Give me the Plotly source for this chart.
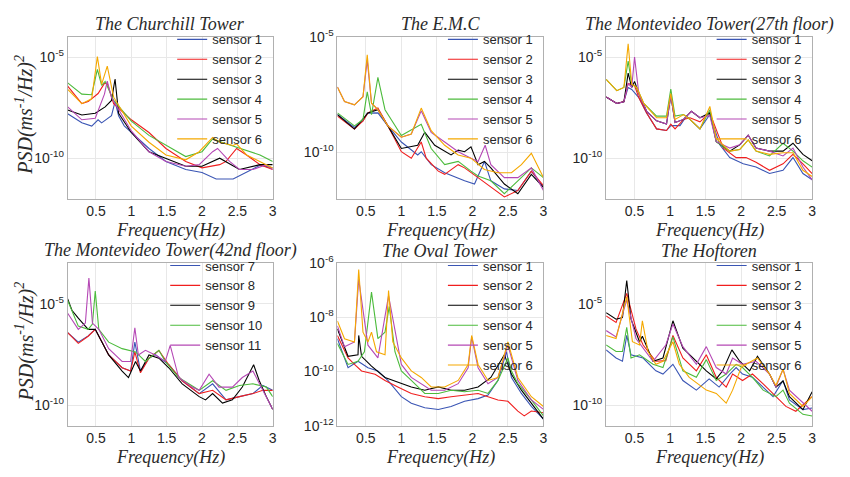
import plotly.graph_objects as go

# ---------------- text ----------------
panel_titles = ["The Churchill Tower", "The E.M.C", "The Montevideo Tower(27th floor)",
                "The Montevideo Tower(42nd floor)", "The Oval Tower", "The Hoftoren"]
names_six = ["sensor 1", "sensor 2", "sensor 3", "sensor 4", "sensor 5", "sensor 6"]
names_five = ["sensor 7", "sensor 8", "sensor 9", "sensor 10", "sensor 11"]
x_tick_vals = [0.5, 1, 1.5, 2, 2.5, 3]
x_tick_text = ["0.5", "1", "1.5", "2", "2.5", "3"]
x_title = "Frequency(Hz)"
y_title = "PSD(ms<sup>-1</sup>/Hz)<sup>2</sup>"

# y tick exponents (log10 of PSD) and axis extents per panel
churchill_yticks = [-10, -5]
emc_yticks = [-10, -5]
mv27_yticks = [-10, -5]
mv42_yticks = [-10, -5]
oval_yticks = [-12, -10, -8, -6]
hof_yticks = [-10, -5]
churchill_yrange = [-12, -4]
emc_yrange = [-12, -5]
mv27_yrange = [-12, -4]
mv42_yrange = [-11, -3]
oval_yrange = [-12, -6]
hof_yrange = [-11, -3]

# ---------------- data: frequency (Hz) and log10 PSD ----------------
# The Churchill Tower
ch1_f = [0.1, 0.3, 0.44, 0.53, 0.58, 0.72, 0.77, 0.82, 0.9, 1.0, 1.25, 1.49, 1.77, 2.0, 2.2, 2.44, 2.63, 2.82, 3.0]
ch1_v = [-7.8, -8.25, -8.41, -8.1, -8.25, -7.9, -7.2, -7.9, -8.4, -8.73, -9.52, -10.16, -10.56, -10.71, -11.03, -11.03, -10.71, -10.35, -10.48]
ch2_f = [0.1, 0.3, 0.39, 0.53, 0.62, 0.66, 0.75, 1.0, 1.25, 1.49, 1.77, 2.0, 2.25, 2.34, 2.49, 2.63, 2.82, 3.0]
ch2_v = [-6.43, -7.3, -7.2, -6.8, -6.3, -6.3, -7.3, -8.1, -8.73, -9.52, -10.16, -10.48, -10.32, -10.16, -9.52, -9.84, -10.32, -10.56]
ch3_f = [0.1, 0.3, 0.49, 0.63, 0.72, 0.77, 0.82, 1.0, 1.25, 1.49, 1.77, 2.0, 2.15, 2.25, 2.53, 2.82, 3.0]
ch3_v = [-7.62, -7.86, -7.78, -7.46, -7.14, -6.08, -7.78, -8.73, -9.68, -10.0, -10.4, -10.4, -10.16, -10.0, -10.56, -10.32, -10.32]
ch4_f = [0.1, 0.3, 0.44, 0.52, 0.58, 0.63, 0.75, 1.0, 1.25, 1.49, 1.77, 2.0, 2.15, 2.34, 2.63, 2.82, 3.0]
ch4_v = [-6.27, -6.83, -6.86, -5.6, -6.4, -6.2, -7.14, -8.17, -8.87, -9.37, -9.92, -9.68, -9.05, -9.29, -9.6, -9.84, -10.16]
ch5_f = [0.1, 0.3, 0.49, 0.62, 0.66, 0.72, 1.0, 1.25, 1.49, 1.77, 1.96, 2.15, 2.22, 2.39, 2.53, 2.72, 2.91, 3.0]
ch5_v = [-7.46, -8.1, -8.02, -6.83, -6.19, -7.0, -8.65, -9.68, -10.16, -10.4, -10.32, -9.68, -9.52, -10.16, -10.56, -10.56, -10.32, -10.56]
ch6_f = [0.1, 0.3, 0.44, 0.52, 0.58, 0.66, 0.75, 1.0, 1.25, 1.49, 1.77, 1.96, 2.15, 2.25, 2.44, 2.49, 2.63, 2.82, 3.0]
ch6_v = [-6.59, -7.3, -7.06, -4.97, -6.35, -5.44, -6.98, -8.41, -9.21, -9.84, -10.08, -9.68, -8.97, -9.21, -9.37, -9.29, -9.84, -10.16, -10.48]

# The E.M.C
emc1_f = [0.1, 0.34, 0.46, 0.52, 0.67, 0.81, 1.0, 1.23, 1.28, 1.42, 1.61, 1.89, 2.03, 2.17, 2.26, 2.45, 2.64, 2.83, 3.0]
emc1_v = [-8.36, -8.92, -8.64, -8.3, -8.29, -8.85, -9.55, -10.11, -9.97, -10.53, -10.88, -11.23, -11.37, -10.39, -11.23, -11.58, -11.65, -10.81, -11.51]
emc2_f = [0.1, 0.34, 0.46, 0.53, 0.67, 0.81, 1.0, 1.14, 1.28, 1.35, 1.52, 1.61, 1.8, 1.89, 2.08, 2.26, 2.45, 2.64, 2.83, 3.0]
emc2_v = [-8.43, -8.99, -8.64, -8.29, -8.08, -8.85, -9.97, -10.25, -9.55, -10.25, -10.81, -10.95, -10.53, -10.67, -11.09, -11.51, -11.93, -11.65, -10.81, -11.44]
emc3_f = [0.1, 0.34, 0.53, 0.67, 0.81, 1.0, 1.23, 1.33, 1.47, 1.7, 1.8, 1.89, 1.98, 2.08, 2.17, 2.26, 2.45, 2.64, 2.83, 3.0]
emc3_v = [-8.36, -8.99, -8.29, -8.15, -8.85, -9.83, -9.69, -9.13, -9.69, -10.11, -9.9, -9.97, -9.76, -10.53, -10.39, -10.67, -11.37, -11.79, -10.95, -11.51]
emc4_f = [0.1, 0.34, 0.46, 0.52, 0.58, 0.67, 0.77, 1.0, 1.28, 1.42, 1.61, 1.8, 1.98, 2.08, 2.26, 2.45, 2.64, 2.83, 3.0]
emc4_v = [-8.29, -8.85, -8.57, -7.38, -8.36, -6.75, -8.15, -9.27, -8.78, -9.83, -10.53, -10.39, -10.81, -11.02, -11.23, -11.79, -11.23, -10.67, -11.09]
emc5_f = [0.1, 0.2, 0.34, 0.46, 0.52, 0.58, 0.67, 0.81, 1.0, 1.14, 1.28, 1.42, 1.61, 1.8, 1.98, 2.08, 2.18, 2.26, 2.45, 2.64, 2.83, 3.0]
emc5_v = [-7.17, -7.8, -7.94, -7.59, -6.0, -7.87, -8.15, -8.85, -9.34, -9.2, -8.2, -9.13, -9.55, -9.97, -10.25, -10.39, -9.69, -10.53, -11.09, -11.09, -10.67, -11.65]
emc6_f = [0.1, 0.2, 0.34, 0.46, 0.52, 0.58, 0.67, 0.81, 1.0, 1.14, 1.28, 1.42, 1.61, 1.8, 1.98, 2.17, 2.36, 2.55, 2.69, 2.83, 3.0]
emc6_v = [-7.17, -7.8, -7.94, -7.59, -5.77, -7.87, -8.15, -8.85, -9.34, -9.2, -8.08, -9.06, -9.69, -10.11, -10.25, -10.74, -10.88, -10.88, -10.53, -10.04, -11.09]

# The Montevideo Tower (27th floor)
m27_1_f = [0.1, 0.25, 0.35, 0.41, 0.46, 0.56, 0.67, 0.81, 0.95, 1.01, 1.14, 1.23, 1.42, 1.56, 1.7, 1.84, 2.03, 2.21, 2.4, 2.59, 2.73, 2.87, 3.0]
m27_1_v = [-6.97, -7.29, -7.2, -6.5, -6.6, -7.0, -7.76, -8.55, -8.63, -8.39, -8.39, -7.92, -8.55, -7.84, -9.34, -9.97, -10.28, -10.44, -10.76, -10.6, -9.97, -10.76, -11.07]
m27_2_f = [0.1, 0.25, 0.35, 0.41, 0.5, 0.56, 0.67, 0.81, 0.95, 1.01, 1.07, 1.19, 1.28, 1.42, 1.56, 1.75, 1.93, 2.07, 2.21, 2.4, 2.59, 2.73, 2.87, 3.0]
m27_2_v = [-6.97, -7.29, -7.2, -6.3, -6.4, -7.0, -7.76, -8.55, -8.63, -8.31, -8.55, -8.08, -8.0, -8.2, -7.76, -9.5, -9.97, -9.97, -10.2, -10.6, -10.28, -9.81, -10.28, -10.76]
m27_3_f = [0.1, 0.25, 0.35, 0.41, 0.46, 0.5, 0.56, 0.67, 0.81, 0.95, 1.01, 1.07, 1.19, 1.3, 1.42, 1.56, 1.65, 1.84, 1.98, 2.1, 2.21, 2.4, 2.59, 2.73, 2.87, 3.0]
m27_3_v = [-6.97, -7.29, -7.21, -5.79, -6.5, -6.2, -6.8, -7.68, -8.15, -8.31, -6.89, -8.23, -8.08, -7.68, -8.0, -7.76, -9.18, -9.65, -9.34, -8.86, -9.5, -9.65, -9.65, -9.26, -9.81, -10.13]
m27_4_f = [0.1, 0.25, 0.35, 0.41, 0.46, 0.53, 0.63, 0.81, 0.95, 1.01, 1.07, 1.19, 1.28, 1.42, 1.56, 1.65, 1.84, 1.98, 2.1, 2.21, 2.4, 2.59, 2.73, 2.87, 3.0]
m27_4_v = [-6.1, -6.66, -6.5, -5.2, -6.34, -6.5, -7.29, -7.92, -7.92, -6.58, -7.92, -7.84, -8.08, -8.55, -7.6, -9.18, -9.65, -9.57, -9.1, -9.65, -9.89, -9.26, -9.65, -10.13, -10.44]
m27_5_f = [0.1, 0.25, 0.35, 0.41, 0.46, 0.5, 0.56, 0.67, 0.81, 0.95, 1.01, 1.07, 1.19, 1.3, 1.42, 1.56, 1.65, 1.84, 1.98, 2.1, 2.21, 2.4, 2.59, 2.73, 2.87, 3.0]
m27_5_v = [-6.97, -7.29, -7.21, -6.3, -6.5, -5.0, -6.8, -7.68, -8.15, -8.31, -6.9, -8.23, -8.08, -7.68, -8.0, -7.9, -9.18, -9.5, -9.34, -8.86, -9.5, -9.65, -9.89, -9.5, -10.44, -11.07]
m27_6_f = [0.1, 0.25, 0.35, 0.41, 0.46, 0.53, 0.63, 0.81, 0.95, 1.01, 1.07, 1.19, 1.28, 1.42, 1.56, 1.65, 1.84, 1.98, 2.1, 2.21, 2.4, 2.59, 2.73, 2.87, 3.0]
m27_6_v = [-6.1, -6.66, -6.5, -4.34, -6.34, -6.5, -7.29, -8.0, -8.0, -6.8, -8.08, -7.84, -8.08, -8.55, -7.44, -9.02, -9.65, -9.57, -9.1, -9.65, -9.81, -9.73, -9.73, -10.6, -10.91]

# The Montevideo Tower (42nd floor)
m42_7_f = [0.1, 0.25, 0.39, 0.49, 0.68, 0.87, 0.99, 1.05, 1.13, 1.25, 1.34, 1.53, 1.72, 1.96, 2.15, 2.34, 2.53, 2.72, 2.86, 3.0]
m42_7_v = [-6.42, -6.89, -6.58, -6.26, -7.52, -8.15, -8.31, -6.89, -8.31, -7.68, -7.5, -8.0, -8.79, -9.42, -8.94, -9.73, -9.57, -9.42, -9.02, -9.26]
m42_8_f = [0.1, 0.25, 0.39, 0.49, 0.68, 0.87, 0.99, 1.05, 1.13, 1.25, 1.39, 1.53, 1.72, 1.96, 2.15, 2.34, 2.53, 2.72, 2.86, 3.0]
m42_8_v = [-6.42, -6.95, -6.6, -6.26, -7.52, -8.15, -8.31, -7.37, -8.4, -7.68, -7.3, -8.0, -8.79, -9.42, -9.26, -9.73, -9.57, -9.42, -9.26, -9.26]
m42_9_f = [0.1, 0.16, 0.25, 0.39, 0.49, 0.54, 0.68, 0.87, 0.96, 1.06, 1.13, 1.25, 1.39, 1.53, 1.72, 1.96, 2.05, 2.15, 2.29, 2.43, 2.57, 2.73, 2.81, 2.91, 3.0]
m42_9_v = [-4.76, -5.32, -5.71, -6.26, -6.26, -6.58, -7.52, -8.31, -8.63, -7.84, -8.31, -7.52, -7.68, -8.15, -8.94, -9.57, -9.73, -9.42, -9.89, -9.73, -9.1, -8.0, -8.79, -9.57, -10.2]
m42_10_f = [0.1, 0.25, 0.39, 0.45, 0.49, 0.54, 0.68, 0.87, 1.06, 1.2, 1.39, 1.48, 1.67, 1.96, 2.15, 2.34, 2.53, 2.72, 2.91, 3.0]
m42_10_v = [-4.84, -6.1, -6.26, -6.0, -4.37, -6.26, -6.89, -7.21, -7.37, -7.84, -7.29, -7.84, -8.63, -9.26, -8.79, -9.26, -9.02, -8.94, -9.1, -9.57]
m42_11_f = [0.1, 0.25, 0.35, 0.4, 0.45, 0.54, 0.68, 0.87, 0.99, 1.05, 1.1, 1.2, 1.34, 1.48, 1.55, 1.67, 1.86, 1.96, 2.1, 2.24, 2.43, 2.57, 2.72, 2.86, 3.0]
m42_11_v = [-5.47, -6.26, -5.95, -3.74, -5.95, -6.26, -7.21, -7.84, -7.84, -6.18, -7.52, -7.29, -7.52, -7.84, -7.05, -8.63, -9.1, -9.26, -8.47, -9.1, -9.1, -8.63, -8.31, -9.26, -10.2]

# The Oval Tower
ov1_f = [0.1, 0.25, 0.39, 0.53, 0.67, 0.81, 1.0, 1.14, 1.33, 1.52, 1.7, 1.89, 2.08, 2.22, 2.36, 2.48, 2.55, 2.69, 2.83, 3.0]
ov1_v = [-8.79, -9.86, -9.62, -9.86, -9.98, -10.33, -10.93, -11.17, -11.34, -11.4, -11.29, -11.1, -11.0, -10.87, -10.33, -9.27, -10.22, -10.81, -11.29, -11.76]
ov2_f = [0.1, 0.25, 0.34, 0.44, 0.63, 0.77, 0.95, 1.14, 1.33, 1.52, 1.7, 1.89, 2.08, 2.22, 2.36, 2.5, 2.64, 2.73, 2.83, 3.0]
ov2_v = [-8.67, -9.5, -9.74, -9.98, -10.1, -10.33, -10.57, -10.81, -10.93, -11.0, -10.93, -10.87, -10.81, -10.93, -11.05, -11.1, -11.46, -11.64, -11.46, -11.52]
ov3_f = [0.1, 0.25, 0.39, 0.4, 0.44, 0.58, 0.77, 1.0, 1.14, 1.33, 1.52, 1.7, 1.89, 2.08, 2.26, 2.45, 2.55, 2.69, 2.83, 3.0]
ov3_v = [-8.43, -9.44, -9.38, -8.67, -9.44, -9.8, -10.22, -10.45, -10.57, -10.69, -10.57, -10.69, -10.69, -10.57, -10.22, -9.38, -10.1, -10.69, -11.17, -11.76]
ov4_f = [0.1, 0.25, 0.39, 0.48, 0.58, 0.67, 0.77, 0.83, 0.91, 1.0, 1.14, 1.33, 1.52, 1.7, 1.89, 2.08, 2.22, 2.36, 2.5, 2.55, 2.64, 2.83, 3.0]
ov4_v = [-8.97, -9.74, -9.62, -9.27, -7.07, -8.79, -8.55, -7.6, -9.27, -9.98, -10.33, -10.81, -10.81, -10.69, -10.75, -10.69, -10.81, -10.33, -9.5, -9.98, -10.45, -11.05, -11.64]
ov5_f = [0.1, 0.2, 0.34, 0.4, 0.53, 0.67, 0.82, 1.0, 1.14, 1.28, 1.42, 1.61, 1.8, 1.94, 1.99, 2.08, 2.22, 2.36, 2.5, 2.64, 2.83, 3.0]
ov5_v = [-8.32, -9.09, -8.91, -6.6, -9.03, -9.5, -7.2, -9.74, -10.22, -10.45, -10.69, -10.69, -10.45, -9.86, -8.73, -9.86, -10.45, -10.22, -9.03, -10.33, -11.05, -11.4]
ov6_f = [0.1, 0.2, 0.34, 0.4, 0.46, 0.53, 0.58, 0.65, 0.77, 0.82, 0.88, 1.0, 1.14, 1.28, 1.42, 1.61, 1.8, 1.94, 1.99, 2.08, 2.22, 2.36, 2.5, 2.64, 2.83, 3.0]
ov6_v = [-8.14, -8.79, -8.91, -6.24, -8.55, -8.91, -8.55, -9.27, -9.38, -7.01, -8.91, -9.5, -9.98, -10.22, -10.57, -10.57, -10.33, -9.74, -8.67, -9.74, -10.33, -10.22, -8.91, -10.22, -10.93, -11.29]

# The Hoftoren
hf1_f = [0.1, 0.24, 0.33, 0.39, 0.45, 0.62, 0.8, 0.9, 1.04, 1.18, 1.37, 1.55, 1.69, 1.84, 1.93, 2.02, 2.16, 2.31, 2.45, 2.59, 2.68, 2.87, 3.0]
hf1_v = [-7.27, -7.67, -7.83, -6.56, -7.51, -7.67, -8.3, -8.46, -7.98, -8.78, -9.25, -8.7, -9.1, -8.46, -8.14, -8.46, -8.62, -9.1, -9.57, -8.78, -9.73, -10.21, -10.13]
hf2_f = [0.1, 0.24, 0.39, 0.52, 0.62, 0.8, 0.94, 1.04, 1.18, 1.37, 1.51, 1.65, 1.79, 1.88, 2.02, 2.16, 2.31, 2.45, 2.63, 2.77, 3.0]
hf2_v = [-5.6, -5.92, -4.49, -6.24, -7.03, -7.83, -7.8, -6.56, -7.67, -8.3, -7.51, -8.62, -9.1, -8.46, -8.78, -8.46, -8.94, -9.41, -10.05, -10.29, -9.57]
hf3_f = [0.1, 0.24, 0.33, 0.39, 0.45, 0.57, 0.61, 0.76, 0.9, 1.04, 1.18, 1.37, 1.51, 1.65, 1.74, 1.87, 1.98, 2.12, 2.23, 2.4, 2.49, 2.59, 2.68, 2.87, 3.0]
hf3_v = [-5.44, -5.76, -5.68, -3.86, -5.76, -6.87, -6.6, -7.83, -7.67, -5.84, -7.19, -7.83, -8.3, -8.7, -8.3, -7.27, -7.83, -8.3, -7.59, -8.46, -9.1, -8.8, -9.57, -10.21, -9.33]
hf4_f = [0.1, 0.24, 0.33, 0.39, 0.45, 0.57, 0.76, 0.9, 1.04, 1.18, 1.37, 1.51, 1.65, 1.79, 1.93, 2.02, 2.16, 2.31, 2.49, 2.59, 2.68, 2.87, 3.0]
hf4_v = [-7.03, -7.35, -7.35, -6.16, -7.67, -7.51, -7.98, -8.14, -6.63, -8.3, -8.62, -7.75, -8.78, -8.46, -7.98, -8.14, -8.62, -9.25, -9.57, -9.25, -9.89, -10.44, -10.52]
hf5_f = [0.1, 0.24, 0.39, 0.52, 0.76, 0.94, 1.04, 1.18, 1.37, 1.51, 1.65, 1.79, 1.88, 2.02, 2.21, 2.4, 2.49, 2.59, 2.68, 2.87, 3.0]
hf5_v = [-6.32, -6.63, -4.81, -6.71, -7.83, -7.03, -6.0, -7.11, -7.98, -7.11, -8.14, -8.46, -7.67, -7.98, -7.83, -8.46, -9.1, -8.22, -9.25, -9.89, -10.29]
hf6_f = [0.1, 0.24, 0.39, 0.47, 0.57, 0.61, 0.69, 0.8, 0.9, 1.04, 1.13, 1.27, 1.51, 1.65, 1.79, 1.88, 2.0, 2.07, 2.23, 2.4, 2.49, 2.59, 2.68, 2.87, 3.0]
hf6_v = [-6.56, -6.71, -4.65, -6.87, -7.03, -5.84, -7.35, -7.98, -7.83, -6.87, -7.98, -8.62, -9.25, -9.41, -9.89, -9.25, -8.14, -7.98, -7.67, -8.46, -9.02, -8.22, -9.41, -10.05, -9.57]

# ---------------- styling ----------------
six_colors = ["#3a55b4", "#f01e1e", "#000000", "#4cbb3c", "#b548b5", "#f5a800"]
five_colors = ["#3a55b4", "#f01e1e", "#000000", "#4cbb3c", "#b548b5"]

W, H = 850, 477
SANS = "Liberation Sans, Arial, sans-serif"
SERIF = "Liberation Serif, Times New Roman, serif"

# plot areas in pixels: (left, right, top, bottom)
boxes = [(68, 274, 28, 196), (339, 546, 28, 196), (609, 816, 28, 196),
         (68, 274, 263, 432), (339, 546, 263, 432), (609, 816, 263, 432)]
legend_text_x = [215, 487, 757, 208, 487, 757]

panels = [
    (list(zip([ch1_f, ch2_f, ch3_f, ch4_f, ch5_f, ch6_f], [ch1_v, ch2_v, ch3_v, ch4_v, ch5_v, ch6_v])), names_six, six_colors, churchill_yrange, churchill_yticks),
    (list(zip([emc1_f, emc2_f, emc3_f, emc4_f, emc5_f, emc6_f], [emc1_v, emc2_v, emc3_v, emc4_v, emc5_v, emc6_v])), names_six, six_colors, emc_yrange, emc_yticks),
    (list(zip([m27_1_f, m27_2_f, m27_3_f, m27_4_f, m27_5_f, m27_6_f], [m27_1_v, m27_2_v, m27_3_v, m27_4_v, m27_5_v, m27_6_v])), names_six, six_colors, mv27_yrange, mv27_yticks),
    (list(zip([m42_7_f, m42_8_f, m42_9_f, m42_10_f, m42_11_f], [m42_7_v, m42_8_v, m42_9_v, m42_10_v, m42_11_v])), names_five, five_colors, mv42_yrange, mv42_yticks),
    (list(zip([ov1_f, ov2_f, ov3_f, ov4_f, ov5_f, ov6_f], [ov1_v, ov2_v, ov3_v, ov4_v, ov5_v, ov6_v])), names_six, six_colors, oval_yrange, oval_yticks),
    (list(zip([hf1_f, hf2_f, hf3_f, hf4_f, hf5_f, hf6_f], [hf1_v, hf2_v, hf3_v, hf4_v, hf5_v, hf6_v])), names_six, six_colors, hof_yrange, hof_yticks),
]

fig = go.Figure()
annotations = []
layout = {}

for i, (series, names, colors, yrange, yticks) in enumerate(panels):
    k = "" if i == 0 else str(i + 1)
    leg = "legend" if i == 0 else "legend" + str(i + 1)
    L, R, T, B = boxes[i]
    for (f, v), name, col in zip(series, names, colors):
        fig.add_trace(go.Scatter(
            x=f, y=[10 ** e for e in v], mode="lines", name=name,
            line=dict(color=col, width=1.1), xaxis="x" + k, yaxis="y" + k,
            legend=leg, hoverinfo="skip"))
    layout["xaxis" + k] = dict(
        domain=[L / W, R / W], anchor="y" + k, range=[0.1, 3],
        tickvals=x_tick_vals, ticktext=x_tick_text, showgrid=True,
        gridcolor="#e8e8e8", gridwidth=1, zeroline=False, showline=True,
        mirror=True, linecolor="#b0b0b0", linewidth=1, ticks="",
        tickfont=dict(family=SANS, size=14, color="#262626"))
    layout["yaxis" + k] = dict(
        domain=[1 - B / H, 1 - T / H], anchor="x" + k, type="log",
        range=yrange, tickvals=[10 ** e for e in yticks],
        ticktext=["10<sup>%d</sup>" % e for e in yticks], showgrid=True,
        gridcolor="#e8e8e8", gridwidth=1, zeroline=False, showline=True,
        mirror=True, linecolor="#b0b0b0", linewidth=1, ticks="",
        tickfont=dict(family=SANS, size=14, color="#262626"))
    layout[leg] = dict(
        x=(legend_text_x[i] - 42) / W, xanchor="left",
        y=1 - (T - 13) / H, yanchor="top", bgcolor="rgba(0,0,0,0)",
        borderwidth=0, font=dict(family=SANS, size=13, color="#262626"),
        tracegroupgap=0, itemwidth=30)
    cx = (L + R) / 2
    annotations.append(dict(
        text="<i>%s</i>" % panel_titles[i], x=cx / W, y=1 - (T - 13) / H,
        xref="paper", yref="paper", showarrow=False, xanchor="center",
        yanchor="middle", font=dict(family=SERIF, size=18, color="#2a2a2a")))
    annotations.append(dict(
        text="<i>%s</i>" % x_title, x=cx / W, y=1 - (B + 33) / H,
        xref="paper", yref="paper", showarrow=False, xanchor="center",
        yanchor="middle", font=dict(family=SERIF, size=18, color="#2a2a2a")))
    if i in (0, 3):
        annotations.append(dict(
            text="<i>%s</i>" % y_title, x=25 / W, y=1 - ((T + B) / 2 - 3) / H,
            xref="paper", yref="paper", showarrow=False, xanchor="center",
            yanchor="middle", textangle=-90,
            font=dict(family=SERIF, size=20, color="#2a2a2a")))

fig.update_layout(
    width=W, height=H, margin=dict(l=0, r=0, t=0, b=0),
    paper_bgcolor="white", plot_bgcolor="white", showlegend=True,
    annotations=annotations, **layout)

fig.write_html("out.html")
